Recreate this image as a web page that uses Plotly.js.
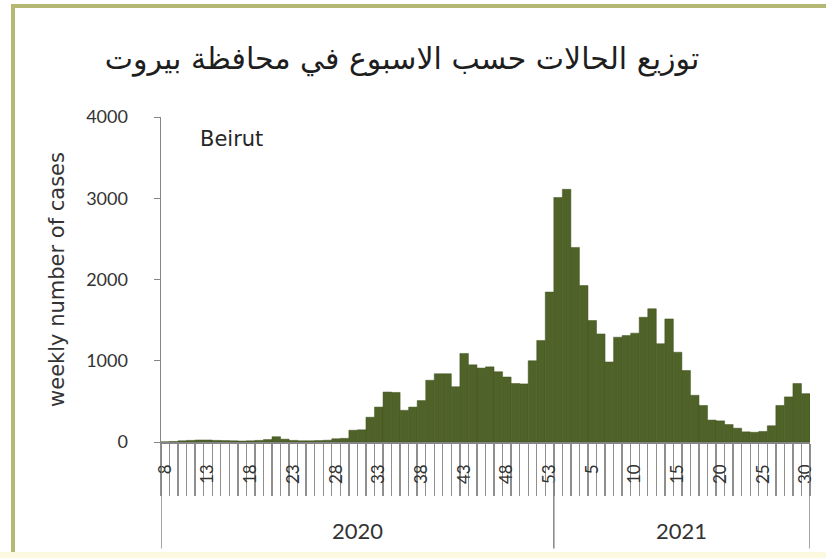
<!DOCTYPE html>
<html>
<head>
<meta charset="utf-8">
<script src="https://cdn.plot.ly/plotly-3.0.1.min.js"></script>
<style>
  html, body { margin: 0; padding: 0; background: #ffffff; }
  #wrap { position: relative; width: 826px; height: 558px; overflow: hidden; }
  #chart { position: absolute; left: 0; top: 0; width: 826px; height: 558px; }
  #frame { position: absolute; left: 11px; top: 4px; width: 830px; height: 560px;
           border-left: 4px solid #b5b873; border-top: 4px solid #b5b873; pointer-events: none; }
  #strip { position: absolute; left: 0; top: 552px; width: 826px; height: 6px; background: #fbf9df; pointer-events: none; }
</style>
</head>
<body>
<div id="wrap">
  <div id="chart"></div>
  <div id="frame"></div>
  <div id="strip"></div>
</div>
<script>
// ---- data ----
const chartTitle = 'توزيع الحالات حسب الاسبوع في محافظة بيروت';
const regionLabel = 'Beirut';
const yTitle = 'weekly number of cases';
const years = ['2020', '2021'];

const weeks2020 = [8, 9, 10, 11, 12, 13, 14, 15, 16, 17, 18, 19, 20, 21, 22, 23, 24, 25, 26, 27,
  28, 29, 30, 31, 32, 33, 34, 35, 36, 37, 38, 39, 40, 41, 42, 43, 44, 45, 46, 47, 48, 49, 50, 51, 52, 53];
const cases2020 = [2, 6, 15, 20, 25, 25, 20, 18, 15, 12, 15, 20, 30, 65, 35, 20, 15, 15, 18, 22,
  40, 45, 145, 150, 305, 430, 615, 610, 390, 430, 510, 760, 840, 840, 680, 1090, 950, 910, 925, 865,
  800, 720, 715, 1000, 1250, 1845];

const weeks2021 = [1, 2, 3, 4, 5, 6, 7, 8, 9, 10, 11, 12, 13, 14, 15, 16, 17, 18, 19, 20,
  21, 22, 23, 24, 25, 26, 27, 28, 29, 30];
const cases2021 = [3010, 3110, 2395, 1925, 1495, 1330, 985, 1290, 1310, 1340, 1535, 1640, 1210, 1515, 1105,
  880, 575, 450, 270, 260, 215, 170, 125, 120, 130, 200, 450, 555, 720, 595];

const yTicks = [0, 1000, 2000, 3000, 4000];
const labelEvery = 5;

// ---- build ----
const allWeeks = weeks2020.concat(weeks2021);
const allCases = cases2020.concat(cases2021);
const xPos = allWeeks.map((w, i) => i);
const tickvals = xPos.filter(i => i % labelEvery === 0);
const ticktext = tickvals.map(i => String(allWeeks[i]));
const boundaries = xPos.map(i => i - 0.5).concat([allWeeks.length - 0.5]);
const xmin = -0.5, xmax = allWeeks.length - 0.5;
const yearSplit = weeks2020.length - 0.5;
const yearCenters = [(xmin + yearSplit) / 2, (yearSplit + xmax) / 2];

const grey = '#858585';
const textCol = '#333333';

const trace = {
  type: 'bar',
  x: xPos,
  y: allCases,
  marker: { color: '#4f6228', line: { color: '#435420', width: 0.5 } },
  hoverinfo: 'y'
};

const layout = {
  width: 826, height: 558,
  margin: { l: 161, r: 16, t: 117, b: 116 },
  paper_bgcolor: '#ffffff', plot_bgcolor: '#ffffff',
  showlegend: false,
  bargap: 0,
  title: {
    text: chartTitle,
    font: { family: 'DejaVu Sans', size: 30, color: '#1e1e1e' },
    x: 402 / 826, xanchor: 'center', xref: 'container',
    y: 1 - 58 / 558, yanchor: 'middle', yref: 'container'
  },
  font: { family: 'Lato, "DejaVu Sans", sans-serif', color: textCol },
  xaxis: {
    range: [xmin, xmax],
    tickmode: 'array', tickvals: tickvals, ticktext: ticktext,
    tickangle: -90,
    ticks: '',
    ticklabelstandoff: 14,
    tickfont: { family: 'Lato', size: 17, color: textCol },
    minor: {
      tickmode: 'array', tickvals: boundaries,
      ticks: 'outside', ticklen: 52, tickwidth: 1.4, tickcolor: '#8f8f8f', showgrid: false
    },
    showline: true, linecolor: grey, linewidth: 1.5,
    showgrid: false, zeroline: false, fixedrange: true
  },
  yaxis: {
    range: [0, 4000],
    tickmode: 'array', tickvals: yTicks, ticktext: yTicks.map(String),
    ticks: 'outside', ticklen: 6, tickcolor: grey,
    ticklabelstandoff: 22,
    tickfont: { family: 'Lato', size: 18, color: textCol },
    showline: true, linecolor: grey, linewidth: 1.5,
    showgrid: false, zeroline: false, fixedrange: true,
    title: { text: yTitle, font: { family: 'DejaVu Sans', size: 21, color: textCol }, standoff: 16 }
  },
  shapes: [
    { type: 'line', xref: 'x', yref: 'paper', x0: xmin, x1: xmin, y0: 0, y1: -0.328, line: { color: grey, width: 1.5 } },
    { type: 'line', xref: 'x', yref: 'paper', x0: yearSplit, x1: yearSplit, y0: -0.11, y1: -0.328, line: { color: grey, width: 1.5 } },
    { type: 'line', xref: 'x', yref: 'paper', x0: xmax, x1: xmax, y0: 0, y1: -0.328, line: { color: grey, width: 1.5 } }
  ],
  annotations: [
    { text: regionLabel, xref: 'paper', yref: 'paper', x: (198 - 161) / 649, y: (441.7 - 139) / 324.7,
      xanchor: 'left', yanchor: 'middle', showarrow: false,
      font: { family: 'DejaVu Sans', size: 21, color: '#262626' } },
    { text: years[0], xref: 'x', yref: 'paper', x: yearCenters[0], y: -0.272, xanchor: 'center', yanchor: 'middle',
      showarrow: false, font: { family: 'Lato', size: 22, color: textCol } },
    { text: years[1], xref: 'x', yref: 'paper', x: yearCenters[1], y: -0.272, xanchor: 'center', yanchor: 'middle',
      showarrow: false, font: { family: 'Lato', size: 22, color: textCol } }
  ]
};

Plotly.newPlot('chart', [trace], layout, { displayModeBar: false, staticPlot: true });
</script>
</body>
</html>
